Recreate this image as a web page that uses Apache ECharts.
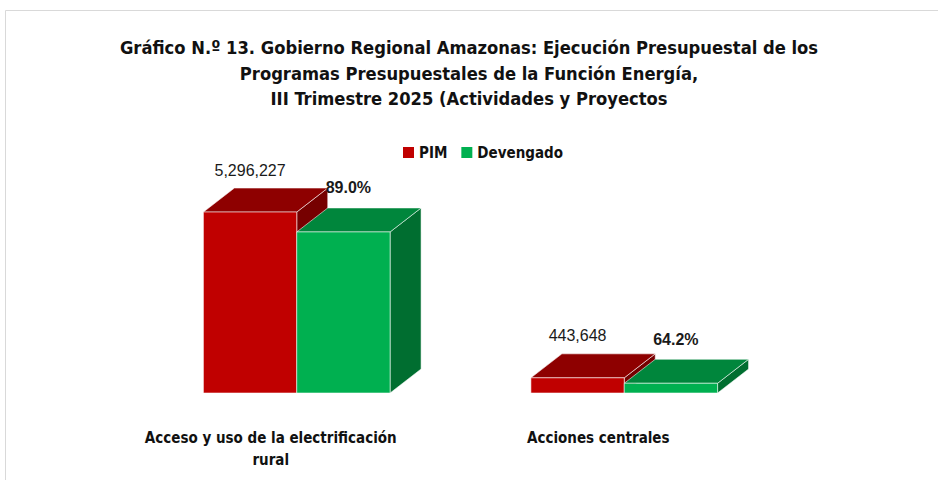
<!DOCTYPE html>
<html>
<head>
<meta charset="utf-8">
<script src="https://cdn.jsdelivr.net/npm/echarts@6/dist/echarts.min.js"></script>
<style>
  html, body { margin: 0; padding: 0; background: #fff; }
  #chart { width: 938px; height: 480px; }
</style>
</head>
<body>
<div id="chart"></div>
<script>
// datos del gráfico
const categories = ['Acceso y uso de la electrificación\nrural', 'Acciones centrales'];
const pimValues = [5296227, 443648];
const devengadoValues = [4713642, 284822];
const avanceLabels = ['89.0%', '64.2%'];

const narrowFont = "'Liberation Sans Narrow', 'DejaVu Sans Condensed', sans-serif";

// profundidad del efecto 3D
const DX = 31, DY = -24;

// dibuja una barra 3D (frente, tapa y costado)
function makeRender(colors, side, labelFn) {
  return function (params, api) {
    const i = api.value(0);
    const v = api.value(1);
    const band = api.size([1, 0])[0];
    const bw = band * 0.285;
    const top = api.coord([i, v]);
    const base = api.coord([i, 0]);
    const x0 = side < 0 ? top[0] - bw : top[0];
    const x1 = x0 + bw;
    const yt = top[1];
    const yb = base[1];
    const edge = { stroke: 'rgba(255,255,255,0.55)', lineWidth: 1 };
    const lbl = labelFn(params.dataIndex);
    return {
      type: 'group',
      children: [
        { type: 'polygon', shape: { points: [[x1, yt], [x1 + DX, yt + DY], [x1 + DX, yb + DY], [x1, yb]] },
          style: Object.assign({ fill: colors[2] }, edge) },
        { type: 'polygon', shape: { points: [[x0, yt], [x0 + DX, yt + DY], [x1 + DX, yt + DY], [x1, yt]] },
          style: Object.assign({ fill: colors[1] }, edge) },
        { type: 'rect', shape: { x: x0, y: yt, width: bw, height: yb - yt },
          style: Object.assign({ fill: colors[0] }, edge) },
        { type: 'text', z2: 10,
          style: { text: lbl.text, x: (x0 + x1) / 2 + lbl.dx, y: yt + DY - lbl.dy,
                   textAlign: 'center', textVerticalAlign: 'middle',
                   font: lbl.font, fill: '#1a1a1a' } }
      ]
    };
  };
}

const chart = echarts.init(document.getElementById('chart'), null, { renderer: 'svg' });

chart.setOption({
  animation: false,
  title: {
    text: 'Gráfico N.º 13. Gobierno Regional Amazonas: Ejecución Presupuestal de los\nProgramas Presupuestales de la Función Energía,\nIII Trimestre 2025 (Actividades y Proyectos',
    left: 'center',
    top: 30,
    textStyle: { fontFamily: narrowFont, fontSize: 18.2, fontWeight: 'bold', lineHeight: 25.5, color: '#111', align: 'center' }
  },
  legend: {
    top: 140,
    left: 398,
    itemWidth: 11,
    itemHeight: 11,
    itemGap: 14,
    icon: 'rect',
    textStyle: { fontFamily: narrowFont, fontSize: 15, fontWeight: 'bold', color: '#111' },
    data: ['PIM', 'Devengado']
  },
  graphic: [{
    type: 'rect', silent: true,
    shape: { x: 5.5, y: 10.5, width: 940, height: 480 },
    style: { fill: 'none', stroke: '#d9d9d9', lineWidth: 1 }
  }],
  grid: { left: 133, right: 150, top: 188, bottom: 87 },
  xAxis: {
    type: 'category',
    data: categories,
    axisLine: { show: false },
    axisTick: { show: false },
    axisLabel: {
      interval: 0,
      margin: 34,
      fontFamily: narrowFont,
      fontSize: 15,
      fontWeight: 'bold',
      lineHeight: 22,
      color: '#111',
      padding: [0, 52, 0, 0]
    }
  },
  yAxis: { type: 'value', min: 0, max: 6000000, show: false, splitLine: { show: false } },
  series: [
    {
      name: 'PIM',
      type: 'custom',
      itemStyle: { color: '#C00000' },
      renderItem: makeRender(['#C00000', '#8E0000', '#760000'], -1, i => ({
        text: pimValues[i].toLocaleString('en-US'), dx: 0, dy: 18,
        font: "16px 'Liberation Sans', Arial, sans-serif"
      })),
      data: pimValues.map((v, i) => [i, v])
    },
    {
      name: 'Devengado',
      type: 'custom',
      itemStyle: { color: '#00B050' },
      renderItem: makeRender(['#00B050', '#00863C', '#006E30'], 1, i => ({
        text: avanceLabels[i], dx: 5, dy: 20,
        font: "bold 16px 'Liberation Sans', Arial, sans-serif"
      })),
      data: devengadoValues.map((v, i) => [i, v])
    }
  ]
});
</script>
</body>
</html>
